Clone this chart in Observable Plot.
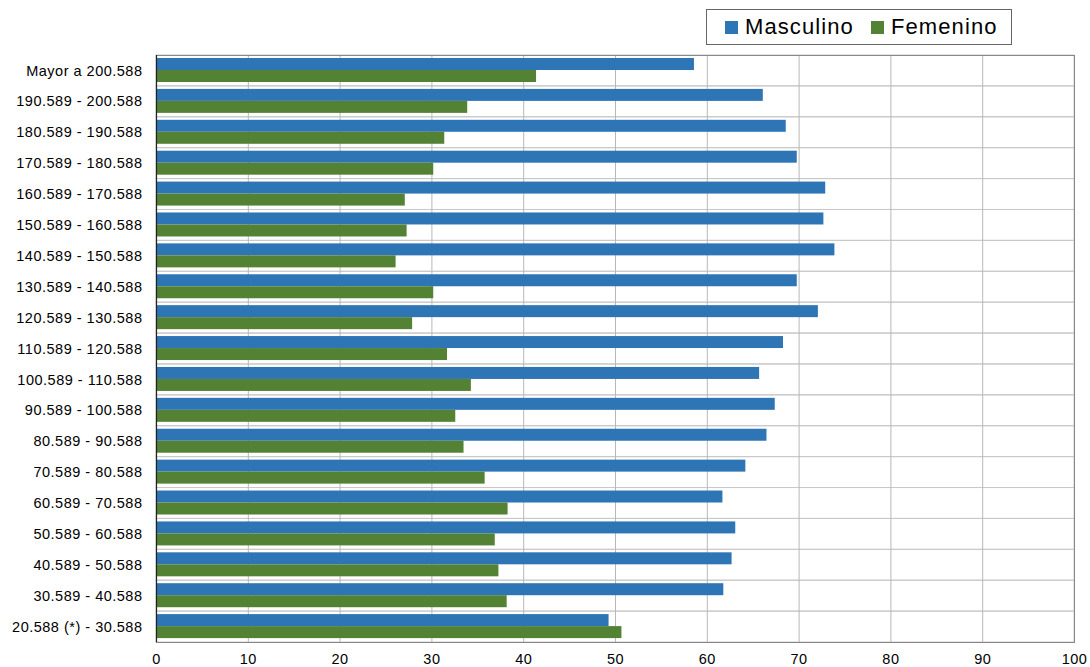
<!DOCTYPE html>
<html>
<head>
<meta charset="utf-8">
<script src="https://cdn.jsdelivr.net/npm/d3@7"></script>
<script src="https://cdn.jsdelivr.net/npm/@observablehq/plot@0.6"></script>
<style>
  body { margin: 0; background: #fff; font-family: "Liberation Sans", Arial, sans-serif; }
  #wrap { position: relative; width: 1090px; height: 667px; }
  #legend { position: absolute; left: 706px; top: 9px; width: 306px; height: 36px; border: 1px solid #666; box-sizing: border-box;
    display: flex; align-items: center; font-size: 22px; letter-spacing: 1.1px; color: #000; }
  .sw { display: inline-block; width: 13px; height: 13px; margin-right: 7px; }
  .item { display: flex; align-items: center; }
</style>
</head>
<body>
<div id="wrap">
  <div id="chart"></div>
  <div id="legend"></div>
</div>
<script>
const categories = [
  "Mayor a 200.588", "190.589 - 200.588", "180.589 - 190.588", "170.589 - 180.588",
  "160.589 - 170.588", "150.589 - 160.588", "140.589 - 150.588", "130.589 - 140.588",
  "120.589 - 130.588", "110.589 - 120.588", "100.589 - 110.588", "90.589 - 100.588",
  "80.589 - 90.588", "70.589 - 80.588", "60.589 - 70.588", "50.589 - 60.588",
  "40.589 - 50.588", "30.589 - 40.588", "20.588 (*) - 30.588"
];
const masculino = [58.6, 66.1, 68.6, 69.8, 72.9, 72.7, 73.9, 69.8, 72.1, 68.3, 65.7, 67.4, 66.5, 64.2, 61.7, 63.1, 62.7, 61.8, 49.3];
const femenino  = [41.4, 33.9, 31.4, 30.2, 27.1, 27.3, 26.1, 30.2, 27.9, 31.7, 34.3, 32.6, 33.5, 35.8, 38.3, 36.9, 37.3, 38.2, 50.7];
const series = ["Masculino", "Femenino"];
const colors = ["#2E75B6", "#548235"];
const xTicks = [0, 10, 20, 30, 40, 50, 60, 70, 80, 90, 100];

const data = categories.map((c, i) => ({cat: c, m: masculino[i], f: femenino[i]}));

const chart = Plot.plot({
  width: 1090,
  height: 667,
  marginTop: 55,
  marginBottom: 25,
  marginLeft: 156,
  marginRight: 16,
  style: {fontFamily: "Liberation Sans, Arial, sans-serif", fontSize: "14.5px", letterSpacing: "0.5px", color: "#000"},
  x: {domain: [0, 100], ticks: xTicks, tickSize: 0, tickPadding: 11, label: null, grid: false},
  y: {domain: categories, padding: 0, round: false, tickSize: 0, tickPadding: 14, label: null},
  marks: [
    Plot.barX(categories, {y: d => d, x1: 0, x2: 100, fill: "none", stroke: "#c8c8c8", strokeWidth: 1}),
    Plot.ruleX(xTicks, {x: d => d, stroke: "#b8b8b8", strokeWidth: 1}),
    Plot.barX(data, {y: "cat", x: "m", fill: colors[0], insetTop: 3, insetBottom: 15.9}),
    Plot.barX(data, {y: "cat", x: "f", fill: colors[1], insetTop: 15, insetBottom: 3.9}),
    Plot.frame({stroke: "#888", strokeWidth: 1, fill: "none"}),
    Plot.ruleX([0], {stroke: "#222", strokeWidth: 1.2})
  ]
});
document.getElementById("chart").appendChild(chart);

const legend = document.getElementById("legend");
series.forEach((s, i) => {
  const item = document.createElement("div");
  item.className = "item";
  item.style.marginLeft = i === 0 ? "18px" : "17px";
  const sw = document.createElement("span");
  sw.className = "sw";
  sw.style.background = colors[i];
  const t = document.createElement("span");
  t.textContent = s;
  item.appendChild(sw);
  item.appendChild(t);
  legend.appendChild(item);
});
</script>
</body>
</html>
